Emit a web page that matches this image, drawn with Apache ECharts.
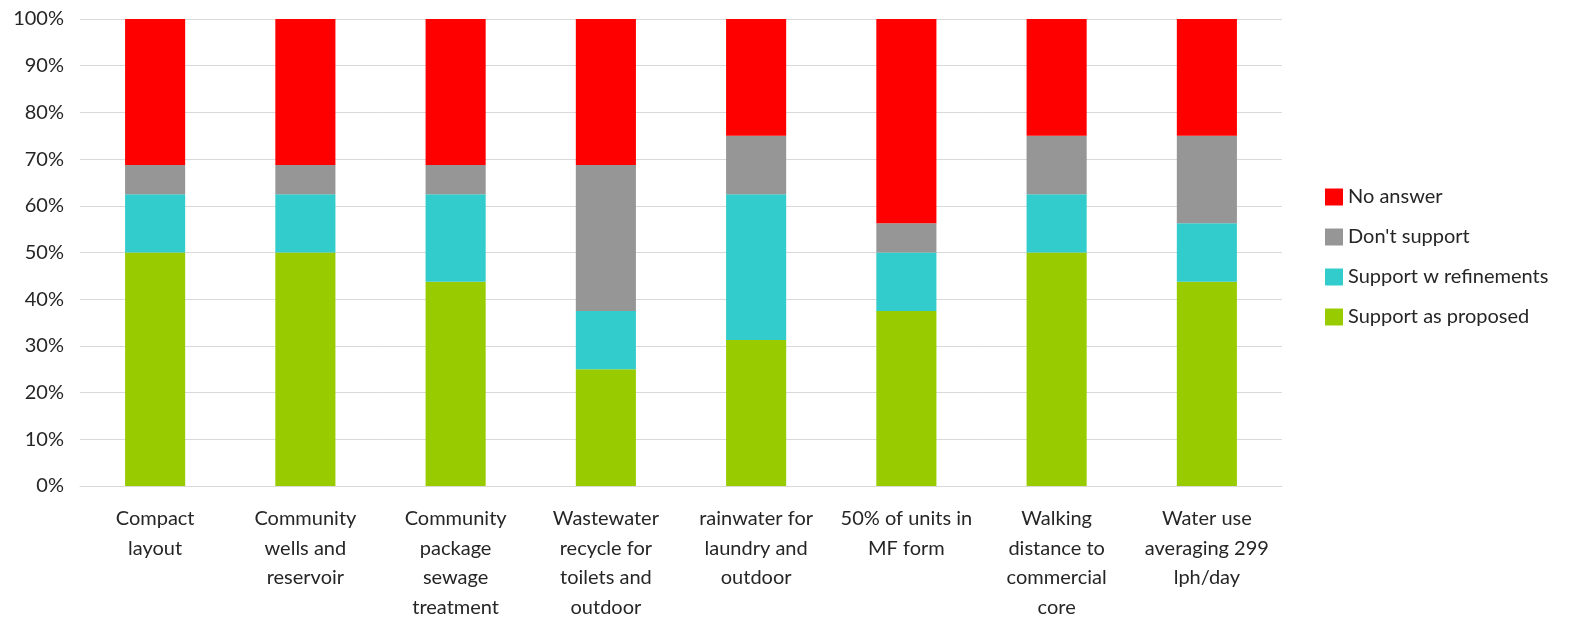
<!DOCTYPE html>
<html>
<head>
<meta charset="utf-8">
<script src="https://cdn.jsdelivr.net/npm/echarts@6/dist/echarts.min.js"></script>
<style>
	html, body { margin: 0; padding: 0; background: #fff; }
	#chart { width: 1577px; height: 623px; }
</style>
</head>
<body>
<div id="chart"></div>
<script>
	// categories (x axis)
	var categories = [
		"Compact\nlayout",
		"Community\nwells and\nreservoir",
		"Community\npackage\nsewage\ntreatment",
		"Wastewater\nrecycle for\ntoilets and\noutdoor",
		"rainwater for\nlaundry and\noutdoor",
		"50% of units in\nMF form",
		"Walking\ndistance to\ncommercial\ncore",
		"Water use\naveraging 299\nlph/day"
	];

	// shares in percent, stacked bottom to top
	var supportAsProposed = [50, 50, 43.75, 25, 31.25, 37.5, 50, 43.75];
	var supportRefinements = [12.5, 12.5, 18.75, 12.5, 31.25, 12.5, 12.5, 12.5];
	var dontSupport = [6.25, 6.25, 6.25, 31.25, 12.5, 6.25, 12.5, 18.75];
	var noAnswer = [31.25, 31.25, 31.25, 31.25, 25, 43.75, 25, 25];

	var fontName = "Lato, 'DejaVu Sans', sans-serif";
	var chart = echarts.init(document.getElementById("chart"));

	function bar(name, data, color) {
		return {
			name: name,
			type: "bar",
			stack: "all",
			barWidth: "40%",
			data: data,
			itemStyle: { color: color },
			emphasis: { disabled: true }
		};
	}

	chart.setOption({
		animation: false,
		textStyle: { fontFamily: fontName },
		grid: { left: 80, right: 295, top: 19, bottom: 137, containLabel: false },
		legend: {
			orient: "vertical",
			left: 1320,
			top: 182,
			icon: "rect",
			itemWidth: 18,
			itemHeight: 17,
			itemGap: 20,
			textStyle: { fontSize: 20, color: "#262626", fontFamily: fontName },
			data: ["No answer", "Don't support", "Support w refinements", "Support as proposed"]
		},
		xAxis: {
			type: "category",
			data: categories,
			axisLine: { lineStyle: { color: "#d9d9d9" } },
			axisTick: { show: false },
			axisLabel: {
				interval: 0,
				color: "#262626",
				fontSize: 20,
				lineHeight: 29.5,
				margin: 18,
				fontFamily: fontName
			}
		},
		yAxis: {
			type: "value",
			min: 0,
			max: 100,
			interval: 10,
			axisLabel: {
				formatter: "{value}%",
				color: "#262626",
				fontSize: 20,
				margin: 16,
				fontFamily: fontName
			},
			splitLine: { lineStyle: { color: "#d9d9d9" } },
			axisLine: { show: false },
			axisTick: { show: false }
		},
		series: [
			bar("Support as proposed", supportAsProposed, "#99cc00"),
			bar("Support w refinements", supportRefinements, "#33cccc"),
			bar("Don't support", dontSupport, "#969696"),
			bar("No answer", noAnswer, "#ff0000")
		]
	});
</script>
</body>
</html>
